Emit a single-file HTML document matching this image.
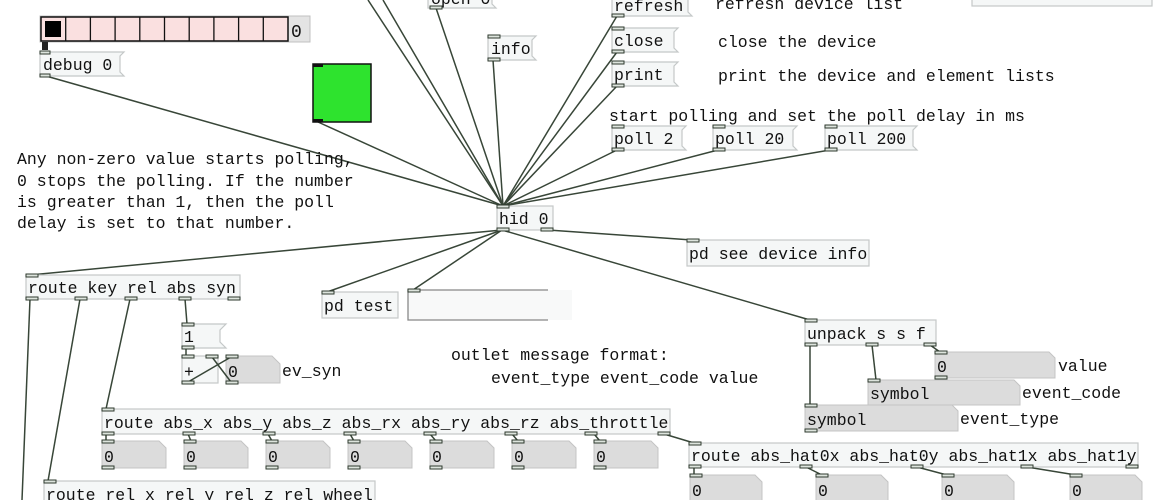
<!DOCTYPE html>
<html><head><meta charset="utf-8"><style>
html,body{margin:0;padding:0;background:#fff;width:1170px;height:500px;overflow:hidden}
svg{display:block}
text{font-family:"Liberation Mono","DejaVu Sans Mono",monospace;font-size:16.5px;fill:#111}
.o{fill:#f5f7f7;stroke:#c4c8c8;stroke-width:1.2}
.n{fill:#dcdcdc;stroke:#c4c4c4;stroke-width:1}
.l{stroke:#384638;stroke-width:1.5;fill:none}
.p{fill:#dde4dd;stroke:#2e3a2e;stroke-width:1}
</style></head><body>
<svg width="1170" height="500" viewBox="0 0 1170 500">
<g class="l">
<line x1="368" y1="0" x2="503" y2="206"/>
<line x1="383" y1="0" x2="503" y2="206"/>
<line x1="436" y1="8" x2="503" y2="206"/>
<line x1="493" y1="60" x2="503" y2="206"/>
<line x1="46" y1="76" x2="503" y2="206"/>
<line x1="318" y1="122" x2="503" y2="206"/>
<line x1="617" y1="16" x2="503" y2="206"/>
<line x1="617" y1="52" x2="503" y2="206"/>
<line x1="617" y1="86" x2="503" y2="206"/>
<line x1="617" y1="150" x2="503" y2="206"/>
<line x1="718" y1="150" x2="503" y2="206"/>
<line x1="830" y1="150" x2="503" y2="206"/>
<line x1="502" y1="230" x2="30" y2="275"/>
<line x1="502" y1="230" x2="327" y2="292"/>
<line x1="502" y1="230" x2="413" y2="290"/>
<line x1="502" y1="230" x2="810" y2="320"/>
<line x1="548" y1="230" x2="692" y2="240"/>
<line x1="30" y1="299" x2="22" y2="500"/>
<line x1="80" y1="299" x2="48" y2="481"/>
<line x1="130" y1="299" x2="106" y2="409"/>
<line x1="185" y1="299" x2="187" y2="324"/>
<line x1="186" y1="348" x2="186" y2="356"/>
<line x1="810" y1="345" x2="810" y2="405"/>
<line x1="872" y1="345" x2="876" y2="380"/>
<line x1="930" y1="345" x2="940" y2="352"/>
<line x1="106" y1="434" x2="106" y2="441"/>
<line x1="188" y1="434" x2="191" y2="441"/>
<line x1="268" y1="434" x2="272" y2="441"/>
<line x1="350" y1="434" x2="354" y2="441"/>
<line x1="430" y1="434" x2="436" y2="441"/>
<line x1="512" y1="434" x2="518" y2="441"/>
<line x1="594" y1="434" x2="600" y2="441"/>
<line x1="664" y1="434" x2="694" y2="443"/>
<line x1="694" y1="467" x2="694" y2="475"/>
<line x1="806" y1="467" x2="822" y2="475"/>
<line x1="917" y1="467" x2="947" y2="475"/>
<line x1="1027" y1="467" x2="1076" y2="475"/>
</g>

<rect x="40" y="16" width="270" height="26" fill="#e4e4e4" stroke="#c0c0c0"/>
<rect x="41" y="17" width="247" height="24" fill="#fae0e0" stroke="#111" stroke-width="1.5"/>
<g stroke="#111" stroke-width="1.3">
<line x1="65.7" y1="17" x2="65.7" y2="41"/><line x1="90.4" y1="17" x2="90.4" y2="41"/><line x1="115.1" y1="17" x2="115.1" y2="41"/><line x1="139.8" y1="17" x2="139.8" y2="41"/><line x1="164.5" y1="17" x2="164.5" y2="41"/><line x1="189.2" y1="17" x2="189.2" y2="41"/><line x1="213.9" y1="17" x2="213.9" y2="41"/><line x1="238.6" y1="17" x2="238.6" y2="41"/><line x1="263.3" y1="17" x2="263.3" y2="41"/>
</g>
<rect x="45" y="21" width="16" height="16" fill="#000"/>
<text x="291" y="37" style="font-size:18px">0</text>
<rect x="42" y="42" width="6" height="8" fill="#222"/>

<path class="o" d="M40 52H124L120 56V72L124 76H40Z"/>
<text x="43" y="70">debug 0</text>
<rect class="p" x="40" y="51" width="10" height="3"/><rect class="p" x="40" y="74" width="10" height="3"/>

<rect x="313" y="64" width="58" height="58" fill="#2ee32e" stroke="#111" stroke-width="1.5"/>
<rect x="313" y="64" width="10" height="3" fill="#111"/><rect x="313" y="119" width="10" height="3" fill="#111"/>

<text x="17" y="164">Any non-zero value starts polling,</text>
<text x="17" y="186">0 stops the polling. If the number</text>
<text x="17" y="207">is greater than 1, then the poll</text>
<text x="17" y="228">delay is set to that number.</text>

<path class="o" d="M428 -10H496L492 -6V4L496 8H428Z"/>
<text x="431" y="4">open 0</text>
<rect class="p" x="430" y="6" width="12" height="3"/>

<path class="o" d="M488 36H536L532 40V56L536 60H488Z"/>
<text x="491" y="54">info</text>
<rect class="p" x="488" y="35" width="12" height="3"/><rect class="p" x="488" y="58" width="12" height="3"/>

<path class="o" d="M612 -10H692L688 -6V12L692 16H612Z"/>
<text x="614" y="11">refresh</text>
<rect class="p" x="612" y="14" width="12" height="3"/>
<path class="o" d="M612 28H678L674 32V48L678 52H612Z"/>
<text x="614" y="46">close</text>
<rect class="p" x="612" y="27" width="12" height="3"/><rect class="p" x="612" y="50" width="12" height="3"/>
<path class="o" d="M612 62H678L674 66V82L678 86H612Z"/>
<text x="614" y="80">print</text>
<rect class="p" x="612" y="61" width="12" height="3"/><rect class="p" x="612" y="84" width="12" height="3"/>
<text x="715" y="9">refresh device list</text>
<text x="718" y="47">close the device</text>
<text x="718" y="81">print the device and element lists</text>
<text x="609" y="121">start polling and set the poll delay in ms</text>

<path class="o" d="M612 126H686L682 130V146L686 150H612Z"/>
<text x="614" y="144">poll 2</text>
<rect class="p" x="612" y="125" width="12" height="3"/><rect class="p" x="612" y="148" width="12" height="3"/>
<path class="o" d="M713 126H797L793 130V146L797 150H713Z"/>
<text x="715" y="144">poll 20</text>
<rect class="p" x="713" y="125" width="12" height="3"/><rect class="p" x="713" y="148" width="12" height="3"/>
<path class="o" d="M825 126H917L913 130V146L917 150H825Z"/>
<text x="827" y="144">poll 200</text>
<rect class="p" x="825" y="125" width="12" height="3"/><rect class="p" x="825" y="148" width="12" height="3"/>

<rect class="o" x="972" y="-10" width="180" height="16"/>

<rect class="o" x="497" y="206" width="56" height="24"/>
<text x="499" y="224">hid 0</text>
<rect class="p" x="497" y="205" width="12" height="3"/><rect class="p" x="497" y="228" width="12" height="3"/><rect class="p" x="541" y="228" width="12" height="3"/>

<rect class="o" x="687" y="240" width="182" height="26"/>
<text x="689" y="259">pd see device info</text>
<rect class="p" x="687" y="239" width="12" height="3"/>

<rect class="o" x="26" y="275" width="214" height="24"/>
<text x="28" y="293">route key rel abs syn</text>
<rect class="p" x="26" y="274" width="12" height="3"/>
<rect class="p" x="26" y="297" width="12" height="3"/><rect class="p" x="75" y="297" width="12" height="3"/><rect class="p" x="125" y="297" width="12" height="3"/><rect class="p" x="179" y="297" width="12" height="3"/><rect class="p" x="228" y="297" width="12" height="3"/>

<rect class="o" x="322" y="292" width="76" height="26"/>
<text x="324" y="311">pd test</text>
<rect class="p" x="322" y="291" width="12" height="3"/>
<rect x="408" y="290" width="164" height="30" fill="#f8f9f9"/>
<path d="M548 290H408V320H548" fill="none" stroke="#888" stroke-width="1.3"/>
<rect class="p" x="408" y="289" width="12" height="3"/>

<path class="o" d="M182 324H226L220 330V342L226 348H182Z"/>
<text x="184" y="342">1</text>
<rect class="p" x="182" y="323" width="12" height="3"/><rect class="p" x="182" y="346" width="12" height="3"/>
<rect class="o" x="182" y="356" width="36" height="27"/>
<text x="184" y="377">+</text>
<path class="n" d="M226 356H272L280 364V383H226Z"/>
<text x="228" y="377">0</text>
<g class="l">
<line x1="188" y1="382" x2="231" y2="357"/>
<line x1="212" y1="357" x2="231" y2="382"/>
</g>
<rect class="p" x="182" y="355" width="12" height="3"/><rect class="p" x="206" y="355" width="12" height="3"/><rect class="p" x="182" y="381" width="12" height="3"/>
<rect class="p" x="226" y="355" width="12" height="3"/><rect class="p" x="226" y="381" width="12" height="3"/>
<text x="282" y="376">ev_syn</text>

<text x="451" y="360">outlet message format:</text>
<text x="491" y="383">event_type event_code value</text>

<rect class="o" x="805" y="320" width="131" height="25"/>
<text x="807" y="339">unpack s s f</text>
<rect class="p" x="805" y="319" width="12" height="3"/>
<rect class="p" x="805" y="343" width="12" height="3"/><rect class="p" x="866" y="343" width="12" height="3"/><rect class="p" x="924" y="343" width="12" height="3"/>
<path class="n" d="M935 352H1049L1055 358V378H935Z"/>
<text x="937" y="372">0</text>
<rect class="p" x="935" y="351" width="12" height="3"/><rect class="p" x="935" y="376" width="12" height="3"/>
<text x="1058" y="371">value</text>
<path class="n" d="M868 380H1014L1020 386V405H868Z"/>
<text x="870" y="399">symbol</text>
<rect class="p" x="868" y="379" width="12" height="3"/>
<text x="1022" y="398">event_code</text>
<path class="n" d="M805 405H952L958 411V431H805Z"/>
<text x="807" y="425">symbol</text>
<rect class="p" x="805" y="404" width="12" height="3"/><rect class="p" x="805" y="429" width="12" height="3"/>
<text x="960" y="424">event_type</text>

<rect class="o" x="102" y="409" width="568" height="25"/>
<text x="104" y="428">route abs_x abs_y abs_z abs_rx abs_ry abs_rz abs_throttle</text>
<rect class="p" x="102" y="408" width="12" height="3"/>
<g>
<rect class="p" x="102" y="432" width="12" height="3"/><rect class="p" x="183" y="432" width="12" height="3"/><rect class="p" x="263" y="432" width="12" height="3"/><rect class="p" x="344" y="432" width="12" height="3"/><rect class="p" x="424" y="432" width="12" height="3"/><rect class="p" x="505" y="432" width="12" height="3"/><rect class="p" x="585" y="432" width="12" height="3"/><rect class="p" x="658" y="432" width="12" height="3"/>
</g>
<g>
<path class="n" d="M102 441H159L166 448V468H102Z"/><text x="104" y="462">0</text>
<path class="n" d="M184 441H241L248 448V468H184Z"/><text x="186" y="462">0</text>
<path class="n" d="M266 441H323L330 448V468H266Z"/><text x="268" y="462">0</text>
<path class="n" d="M348 441H405L412 448V468H348Z"/><text x="350" y="462">0</text>
<path class="n" d="M430 441H487L494 448V468H430Z"/><text x="432" y="462">0</text>
<path class="n" d="M512 441H569L576 448V468H512Z"/><text x="514" y="462">0</text>
<path class="n" d="M594 441H651L658 448V468H594Z"/><text x="596" y="462">0</text>
<rect class="p" x="102" y="440" width="12" height="3"/><rect class="p" x="102" y="466" width="12" height="3"/>
<rect class="p" x="184" y="440" width="12" height="3"/><rect class="p" x="184" y="466" width="12" height="3"/>
<rect class="p" x="266" y="440" width="12" height="3"/><rect class="p" x="266" y="466" width="12" height="3"/>
<rect class="p" x="348" y="440" width="12" height="3"/><rect class="p" x="348" y="466" width="12" height="3"/>
<rect class="p" x="430" y="440" width="12" height="3"/><rect class="p" x="430" y="466" width="12" height="3"/>
<rect class="p" x="512" y="440" width="12" height="3"/><rect class="p" x="512" y="466" width="12" height="3"/>
<rect class="p" x="594" y="440" width="12" height="3"/><rect class="p" x="594" y="466" width="12" height="3"/>
</g>

<rect class="o" x="689" y="443" width="449" height="24"/>
<text x="691" y="461">route abs_hat0x abs_hat0y abs_hat1x abs_hat1y</text>
<rect class="p" x="689" y="442" width="12" height="3"/>
<rect class="p" x="689" y="465" width="12" height="3"/><rect class="p" x="800" y="465" width="12" height="3"/><rect class="p" x="911" y="465" width="12" height="3"/><rect class="p" x="1021" y="465" width="12" height="3"/><rect class="p" x="1126" y="465" width="12" height="3"/>
<path class="n" d="M690 475H755L762 482V505H690Z"/><text x="692" y="496">0</text>
<path class="n" d="M816 475H881L888 482V505H816Z"/><text x="818" y="496">0</text>
<path class="n" d="M942 475H1007L1014 482V505H942Z"/><text x="944" y="496">0</text>
<path class="n" d="M1070 475H1135L1142 482V505H1070Z"/><text x="1072" y="496">0</text>
<rect class="p" x="690" y="474" width="12" height="3"/><rect class="p" x="816" y="474" width="12" height="3"/><rect class="p" x="942" y="474" width="12" height="3"/><rect class="p" x="1070" y="474" width="12" height="3"/>

<rect class="o" x="44" y="481" width="331" height="26"/>
<text x="46" y="500">route rel_x rel_y rel_z rel_wheel</text>
<rect class="p" x="44" y="480" width="12" height="3"/>
</svg>
</body></html>
